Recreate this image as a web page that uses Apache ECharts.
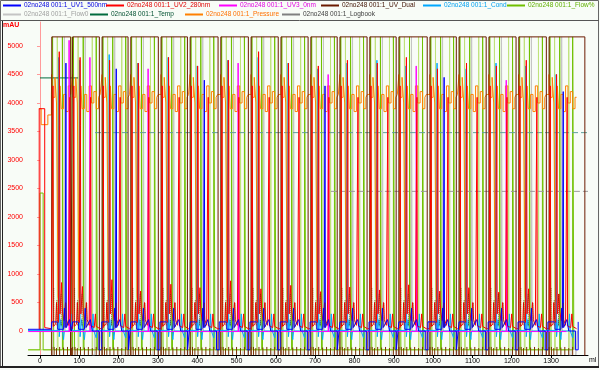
<!DOCTYPE html>
<html><head><meta charset="utf-8">
<script src="https://cdn.jsdelivr.net/npm/echarts@6/dist/echarts.min.js"></script>
<style>html,body{margin:0;padding:0;background:#fff}#c{width:600px;height:370px}</style>
</head><body><div id="c"></div>
<script>
// ---- data (ml, mAU) ----
const cycleStarts = [30, 83, 158, 231, 308, 382, 460, 537, 613, 689, 763, 839, 913, 992, 1066, 1142, 1218, 1295];
const cycleEnds   = [78, 151, 224, 301, 375, 453, 530, 606, 682, 756, 832, 906, 985, 1059, 1135, 1211, 1288, 1386];
const uv2Peak   = [4900, 4800, 4750, 4700, 4800, 4650, 4750, 4900, 4700, 4650, 4750, 4700, 4800, 4600, 4700, 4650, 4750, 4500];
const uv2Bump   = [850, 780, 900, 700, 820, 760, 880, 740, 800, 690, 770, 720, 810, 700, 760, 680, 740, 650];
const blueSpike = [4700, 60, 4600, 60, 60, 4400, 60, 60, 60, 4300, 60, 60, 60, 4450, 60, 60, 60, 4200];
const uv3Spike  = [5100, 4800, -10, 4600, -10, -10, 4700, -10, -10, 4500, -10, -10, 4650, -10, -10, 4400, -10, -10];
const condSpike = [4800, 4750, 4850, 4700, 4800, 4650, 4750, 4800, 4700, 4600, 4700, 4750, 4650, 4700, 4600, 4700, 4650, 4500];
const yTicks = [0, 500, 1000, 1500, 2000, 2500, 3000, 3500, 4000, 4500, 5000];
const xTicks = [0, 100, 200, 300, 400, 500, 600, 700, 800, 900, 1000, 1100, 1200, 1300];

// per-cycle profiles: [offset from cycle start (ml), value]; 'P','B','S','M','C' = per-cycle values above
const uv2Pattern = [[0,40],[3,60],[3,4300],[4,4300],[4,80],[10,120],[12,500],[14,200],[17,150],[19,150],[19,'P'],[20,'P'],[20,3600],[21,3600],[21,300],[25,'B'],[27,350],[31,180],[35,500],[37,200],[42,100],[46,100],[46,4100],[47,4100],[47,90],[55,60],[58,300],[60,80],[70,40]];
const uv1Pattern = [[0,160],[15,160],[15,30],[30,30],[32,400],[34,60],[36,60],[36,'S'],[37,'S'],[37,60],[45,200],[50,200],[50,0],[67,0],[67,-330],[74,-330],[74,160]];
const condPattern = [[0,10],[18,10],[18,'C'],[19,'C'],[19,-100],[22,-100],[23,200],[26,50],[30,-150],[32,0],[50,0],[52,300],[54,0],[60,-120],[62,10]];
const uv3Pattern = [[0,-10],[44,-10],[44,'M'],[45,'M'],[45,-10]];
const flowPattern = [[0,-330],[2,-330],[2,5160],[5,5160],[5,-330],[27,-330],[27,5160],[29,5160],[29,-330],[60,-330],[60,5160],[63,5160],[63,-330]];
const paleFlowPattern = [[0,-330],[14,-330],[14,5160],[16,5160],[16,-330],[50,-330],[50,5160],[51,5160],[51,-330]];
const flowDPattern = [[0,0],[32,0],[32,5160],[34,5160],[34,0],[50,0],[50,-420],[56,-420],[56,0],[68,0],[68,-420],[72,-420],[72,0]];
const pressurePattern = [[0,4150],[1,4500],[8,4100],[12,4450],[16,4000],[18,600],[21,520],[24,4300],[30,3900],[36,4150],[42,3850],[48,4300],[54,4000],[60,4200],[66,3900],[70,4100]];
const logTextPattern = [[5,100],[5,750],[5,null],[13,100],[13,550],[13,null],[24,100],[24,650],[24,null],[36,80],[36,500],[36,null]];
const logTickPattern = [[0,-420],[0,-280],[0,null],[6,-420],[6,-280],[6,null],[12,-420],[12,-300],[12,null],[20,-420],[20,-280],[20,null],[30,-420],[30,-290],[30,null],[40,-420],[40,-280],[40,null],[50,-420],[50,-300],[50,null],[60,-420],[60,-280],[60,null]];

// lead-in segments before the first cycle
const uv2Lead = [[-2,30],[-2,3900],[12,3900],[12,60],[29,40]];
const pressureLead = [[-3,3900],[3,3900],[3,3620],[20,3620],[20,3790],[29,3790]];
const flowLead = [[-30,-330],[0,-330],[0,2420],[8,2420],[8,-330],[29,-330]];
const tempSolid = [[0,4440],[97,4440]];
const tempDashed = [[140,3480],[1394,3480]];
const greyDashed = [[740,2450],[1394,2450]];
const uv3Line = [[-30,-10],[29,-10]];

const X_MIN = -30.5, X_MAX = 1394;

function build(pattern, lead) {
  const out = lead ? lead.slice() : [];
  const tok = {P: uv2Peak, B: uv2Bump, S: blueSpike, M: uv3Spike, C: condSpike};
  cycleStarts.forEach((s, i) => {
    const lim = (i + 1 < cycleStarts.length ? cycleStarts[i + 1] : X_MAX) - s;
    pattern.forEach(([o, v]) => {
      if (o >= lim) return;
      const val = (typeof v === 'string') ? tok[v][i] : v;
      out.push([s + o, val]);
    });
  });
  return out;
}
function buildDual() {
  const out = [[X_MIN, -500]];
  cycleStarts.forEach((s, i) => {
    out.push([s, -500], [s, 5160], [cycleEnds[i], 5160], [cycleEnds[i], -500]);
  });
  out.push([X_MAX, -500]);
  return out;
}

const names = ['02no248 001:1_UV1_500nm', '02no248 001:1_UV2_280nm', '02no248 001:1_UV3_0nm', '02no248 001:1_UV_Dual', '02no248 001:1_Cond', '02no248 001:1_Flow%', '02no248 001:1_Flow0', '02no248 001:1_Temp', '02no248 001:1_Pressure', '02no248 001:1_Logbook'];
const colors = ['#0000ff', '#ff0000', '#ff00ff', '#6b1a00', '#00a8ff', '#70c000', '#c4c4c4', '#006b3c', '#ff8000', '#808080'];
const textColors = ['#0000e0', '#e00000', '#e000e0', '#401000', '#00a0f0', '#60b000', '#a0a0a0', '#005030', '#ff7000', '#404040'];
const legendPos = [[3,2],[106,2],[219,2],[321,2],[423,2],[507,2],[3,11],[90,11],[185,11],[282,11]];

function ln(name, data, color, extra) {
  return Object.assign({name, type: 'line', data, showSymbol: false, symbol: 'none', animation: false,
    silent: true, lineStyle: {color, width: 1}, itemStyle: {color}}, extra || {});
}

const series = [
  ln(names[6], build(flowDPattern, [[X_MIN,0],[29,0]]), colors[6]),
  ln('paleflow', build(paleFlowPattern, [[X_MIN,-330],[29,-330]]), '#bfe27a'),
  ln(names[5], build(flowPattern, flowLead), colors[5]),
  ln(names[7], tempSolid, colors[7]),
  ln('tempDash', tempDashed, '#5f9f9a', {lineStyle: {color: '#5f9f9a', width: 1, type: [6, 3]}}),
  ln('greyDash', greyDashed, '#9a9a9a', {lineStyle: {color: '#9a9a9a', width: 1, type: [6, 3]}}),
  ln(names[8], build(pressurePattern, pressureLead), colors[8], {step: 'start'}),
  ln(names[3], buildDual(), colors[3]),
  ln(names[4], build(condPattern, [[X_MIN,10],[29,10]]), colors[4]),
  ln(names[2], build(uv3Pattern, uv3Line), colors[2]),
  ln(names[1], build(uv2Pattern, uv2Lead), colors[1]),
  ln(names[0], build(uv1Pattern, [[X_MIN,30],[29,30]]), colors[0]),
  ln(names[9], build(logTextPattern, []), '#7a3000', {lineStyle: {color: '#7a3000', width: 1, type: 'dotted'}}),
  ln('logTicks', build(logTickPattern, []), '#7a3000', {lineStyle: {color: '#7a3000', width: 1}})
];

const legends = names.map((n, i) => ({
  left: legendPos[i][0], top: legendPos[i][1], orient: 'horizontal', selectedMode: false,
  itemWidth: 18, itemHeight: 2, itemGap: 0, padding: 0,
  data: [{name: n, icon: 'rect', itemStyle: {color: colors[i]}, textStyle: {color: textColors[i]}}],
  textStyle: {fontSize: 6.5, fontFamily: 'Liberation Sans', padding: [0, 0, 0, -2]}
}));

const plain = v => String(v);
const chart = echarts.init(document.getElementById('c'), null, {renderer: 'canvas'});
chart.setOption({
  backgroundColor: '#f8fcf7',
  animation: false,
  legend: legends,
  grid: {left: 28, right: 12, top: 22, bottom: 15},
  xAxis: {
    type: 'value', min: X_MIN, max: X_MAX,
    axisLine: {onZero: false, lineStyle: {color: '#000', width: 1}},
    axisTick: {customValues: xTicks, length: 3, lineStyle: {color: '#000'}},
    axisLabel: {customValues: xTicks, formatter: plain, fontSize: 7, color: '#000', margin: 3, fontFamily: 'Liberation Sans'},
    splitLine: {show: false}
  },
  yAxis: {
    type: 'value', min: -421, max: 5421,
    axisLine: {show: true, lineStyle: {color: '#ff9a9a', width: 1}},
    axisTick: {show: true, customValues: yTicks, length: 3, lineStyle: {color: '#ff9a9a'}},
    axisLabel: {customValues: yTicks, formatter: plain, fontSize: 7, color: '#ff0000', margin: 5, fontFamily: 'Liberation Sans'},
    splitLine: {show: false}
  },
  graphic: [
    {type: 'rect', shape: {x: 0.5, y: 0.5, width: 598, height: 367}, style: {fill: null, stroke: '#666', lineWidth: 1}, silent: true},
    {type: 'line', shape: {x1: 0, y1: 20.5, x2: 599, y2: 20.5}, style: {stroke: '#555', lineWidth: 1}, silent: true},
    {type: 'line', shape: {x1: 2.5, y1: 21, x2: 2.5, y2: 366}, style: {stroke: '#222', lineWidth: 1}, silent: true},
    {type: 'line', shape: {x1: 0, y1: 367, x2: 599, y2: 367}, style: {stroke: '#222', lineWidth: 2}, silent: true},
    {type: 'text', left: 3, top: 22, style: {text: 'mAU', fontSize: 7, fill: '#ff0000', fontFamily: 'Liberation Sans', fontWeight: 'bold'}, silent: true},
    {type: 'text', left: 589, top: 357, style: {text: 'ml', fontSize: 7, fill: '#000', fontFamily: 'Liberation Sans'}, silent: true}
  ],
  series
});
</script></body></html>
